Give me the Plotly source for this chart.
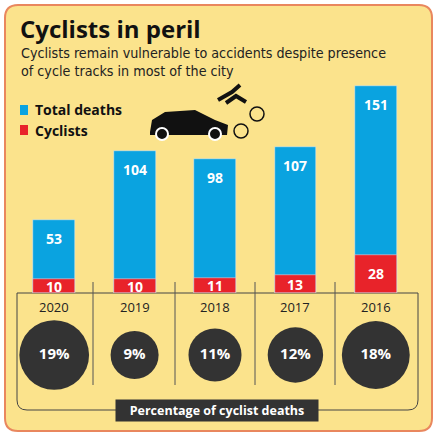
import plotly.graph_objects as go

years = ["2020", "2019", "2018", "2017", "2016"]
total_deaths = [53, 104, 98, 107, 151]
cyclists = [10, 10, 11, 13, 28]
pct_labels = ["19%", "9%", "11%", "12%", "18%"]
pct_values = [19, 9, 11, 12, 18]

W, H = 437, 436
def px(x): return x / W
def py(y): return 1 - y / H

BLUE = "#0AA3E0"
RED = "#E8232A"
DARK = "#333333"
BG = "#FBE38C"

fig = go.Figure()
fig.add_bar(x=years, y=total_deaths, marker_color=BLUE, width=0.52, hoverinfo="skip", opacity=1)
fig.add_bar(x=years, y=cyclists, marker_color=RED, width=0.52, hoverinfo="skip", opacity=1)

fig.add_scatter(x=years, y=[0]*5, yaxis="y2", mode="markers+text", opacity=1,
                marker=dict(size=[16*v**0.5 for v in pct_values], color=DARK, opacity=1, line_width=0),
                text=pct_labels, textposition="middle center",
                textfont=dict(color="white", size=15, family="Open Sans", weight="bold"),
                hoverinfo="skip")

ann = []
for i, (yr, t, c) in enumerate(zip(years, total_deaths, cyclists)):
    ann.append(dict(x=i, xref="x", y=t, yref="y", text=f"<b>{t}</b>", showarrow=False, yanchor="top", yshift=-7,
                    font=dict(color="white", size=14, family="Open Sans")))
    ann.append(dict(x=i, xref="x", y=c/2, yref="y", text=f"<b>{c}</b>", showarrow=False, yanchor="middle",
                    font=dict(color="white", size=14, family="Open Sans")))
    ann.append(dict(x=i, xref="x", y=py(307), yref="paper", text=yr, showarrow=False, yanchor="middle",
                    font=dict(color="#222", size=13, family="Open Sans")))

ann += [
    dict(x=px(18), y=py(28), xref="paper", yref="paper", xanchor="left", yanchor="middle", showarrow=False,
         text="<b>Cyclists in peril</b>", font=dict(size=24, color="#111", family="Open Sans")),
    dict(x=px(19), y=py(62), xref="paper", yref="paper", xanchor="left", yanchor="middle", showarrow=False, align="left",
         text="Cyclists remain vulnerable to accidents despite presence<br>of cycle tracks in most of the city",
         font=dict(size=14.2, color="#222", family="DejaVu Sans Condensed")),
    dict(x=px(33), y=py(110), xref="paper", yref="paper", xanchor="left", yanchor="middle", showarrow=False,
         text="<b>Total deaths</b>", font=dict(size=14, color="#111", family="Open Sans")),
    dict(x=px(33), y=py(130), xref="paper", yref="paper", xanchor="left", yanchor="middle", showarrow=False,
         text="<b>Cyclists</b>", font=dict(size=14, color="#111", family="Open Sans")),
    dict(x=px(217), y=py(410), xref="paper", yref="paper", xanchor="center", yanchor="middle", showarrow=False,
         text="<b>Percentage of cyclist deaths</b>", font=dict(size=12.5, color="white", family="Open Sans"),
         bgcolor=DARK, borderpad=3, width=196, height=15),
]

shapes = [
    dict(type="path", xref="paper", yref="paper",
         path=f"M {px(18)},{py(5)} L {px(419)},{py(5)} Q {px(432)},{py(5)} {px(432)},{py(18)} L {px(432)},{py(418)} Q {px(432)},{py(431)} {px(419)},{py(431)} L {px(18)},{py(431)} Q {px(5)},{py(431)} {px(5)},{py(418)} L {px(5)},{py(18)} Q {px(5)},{py(5)} {px(18)},{py(5)} Z",
         fillcolor=BG, line=dict(color="#E9875E", width=2), layer="below"),
    dict(type="path", xref="paper", yref="paper",
         path=f"M {px(17)},{py(293)} L {px(17)},{py(400)} Q {px(17)},{py(410)} {px(27)},{py(410)} L {px(408)},{py(410)} Q {px(418)},{py(410)} {px(418)},{py(400)} L {px(418)},{py(293)} Z",
         line=dict(color="#444", width=1), layer="below"),
    dict(type="rect", xref="paper", yref="paper", x0=px(20), x1=px(28), y0=py(105), y1=py(115), fillcolor=BLUE, line_width=0),
    dict(type="rect", xref="paper", yref="paper", x0=px(20), x1=px(28), y0=py(125), y1=py(135), fillcolor=RED, line_width=0),
    dict(type="path", xref="paper", yref="paper",
         path=f"M {px(150)},{py(132)} L {px(152)},{py(120)} L {px(165)},{py(112)} L {px(195)},{py(110)} L {px(215)},{py(120)} L {px(228)},{py(125)} L {px(227)},{py(135)} L {px(150)},{py(135)} Z",
         fillcolor="#111", line_width=0),
    dict(type="circle", xref="paper", yref="paper", x0=px(156), x1=px(168), y0=py(128), y1=py(140), fillcolor="#111", line=dict(color="white", width=2)),
    dict(type="circle", xref="paper", yref="paper", x0=px(209), x1=px(221), y0=py(128), y1=py(140), fillcolor="#111", line=dict(color="white", width=2)),
    dict(type="circle", xref="paper", yref="paper", x0=px(234), x1=px(248), y0=py(124), y1=py(138), line=dict(color="#111", width=1.5)),
    dict(type="circle", xref="paper", yref="paper", x0=px(250), x1=px(264), y0=py(107), y1=py(121), line=dict(color="#111", width=1.5)),
    dict(type="path", xref="paper", yref="paper",
         path=f"M {px(218)},{py(100)} L {px(232)},{py(92)} L {px(240)},{py(85)} M {px(226)},{py(103)} L {px(236)},{py(96)} L {px(246)},{py(102)}",
         line=dict(color="#111", width=4)),
]
for xd in [93, 175, 255, 335]:
    shapes.append(dict(type="line", xref="paper", yref="paper", x0=px(xd), x1=px(xd), y0=py(282), y1=py(385),
                       line=dict(color="#555", width=1)))

fig.update_layout(
    width=W, height=H, margin=dict(l=0, r=0, t=0, b=0),
    paper_bgcolor="white", plot_bgcolor="rgba(0,0,0,0)",
    barmode="overlay", showlegend=False, bargap=0,
    xaxis=dict(type="category", domain=[px(14), px(416)], range=[-0.5, 4.5], showticklabels=False, showgrid=False, zeroline=False),
    yaxis=dict(domain=[py(293), py(74)], range=[0, 160], showticklabels=False, showgrid=False, zeroline=False),
    yaxis2=dict(domain=[py(400), py(310)], range=[-1, 1], showticklabels=False, showgrid=False, zeroline=False, anchor="x"),
    annotations=ann, shapes=shapes,
)
fig.write_html("out.html", config={"displayModeBar": False},
               post_script="document.body.style.margin='0';document.body.style.overflow='hidden';")
